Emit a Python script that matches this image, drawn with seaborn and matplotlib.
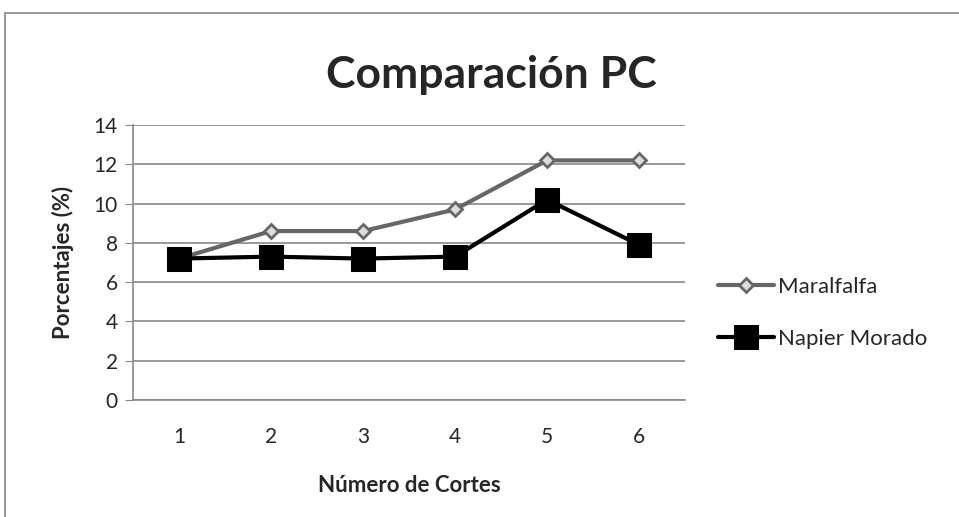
import pandas as pd
import matplotlib.pyplot as plt
import seaborn as sns
from matplotlib.patches import Rectangle

cortes = [1, 2, 3, 4, 5, 6]
maralfalfa = [7.2, 8.6, 8.6, 9.7, 12.2, 12.2]
napier = [7.2, 7.3, 7.2, 7.3, 10.2, 7.9]

df = pd.DataFrame({"corte": cortes, "Maralfalfa": maralfalfa, "Napier Morado": napier})

sns.set_style("white")
plt.rcParams['font.family'] = ['Lato', 'DejaVu Sans']

fig = plt.figure(figsize=(9.59, 5.17), dpi=100)
ax = fig.add_axes([0.1387, 0.2263, 0.5757, 0.5319])

# chart frame
fig.patches.append(Rectangle((5 / 959, -0.1), 1.2, 1 - 13 / 517 + 0.1,
                             transform=fig.transFigure, fill=False,
                             edgecolor="#888888", linewidth=1.2))

sns.lineplot(data=df, x="corte", y="Maralfalfa", ax=ax, color="#666666", lw=3,
             marker="D", markersize=7, markerfacecolor="#dddddd",
             markeredgecolor="#666666", markeredgewidth=2, label="Maralfalfa")
sns.lineplot(data=df, x="corte", y="Napier Morado", ax=ax, color="black", lw=3,
             marker="s", markersize=17, markerfacecolor="black",
             markeredgecolor="black", label="Napier Morado")

ax.set_xlim(0.5, 6.5)
ax.set_ylim(0, 14)
ax.set_yticks(range(0, 15, 2))
ax.set_xticks(cortes)
ax.yaxis.grid(True, color="#888888", lw=1.2)
for s in ["top", "right"]:
    ax.spines[s].set_visible(False)
ax.spines["left"].set_color("#888888")
ax.spines["bottom"].set_color("#888888")
ax.spines["left"].set_linewidth(1.2)
ax.spines["bottom"].set_linewidth(1.2)
ax.tick_params(axis="y", left=True, length=6, color="#888888", labelsize=15, pad=5)
ax.tick_params(axis="x", bottom=False, labelsize=15, pad=16)

fig.text(491 / 959, 1 - 75 / 517, "Comparación PC", fontsize=32, fontweight="bold",
         ha="center", va="center")
ax.set_xlabel("Número de Cortes", fontsize=16, fontweight="bold", labelpad=20)
ax.set_ylabel("Porcentajes (%)", fontsize=16, fontweight="bold", labelpad=14)

ax.legend(loc="center left", bbox_to_anchor=(718 / 959, 1 - 313 / 517),
          bbox_transform=fig.transFigure, frameon=False,
          fontsize=16, handlelength=2.5, labelspacing=1.45, handletextpad=0.2,
          borderaxespad=0, borderpad=0)

fig.savefig("out.png", dpi=100)
